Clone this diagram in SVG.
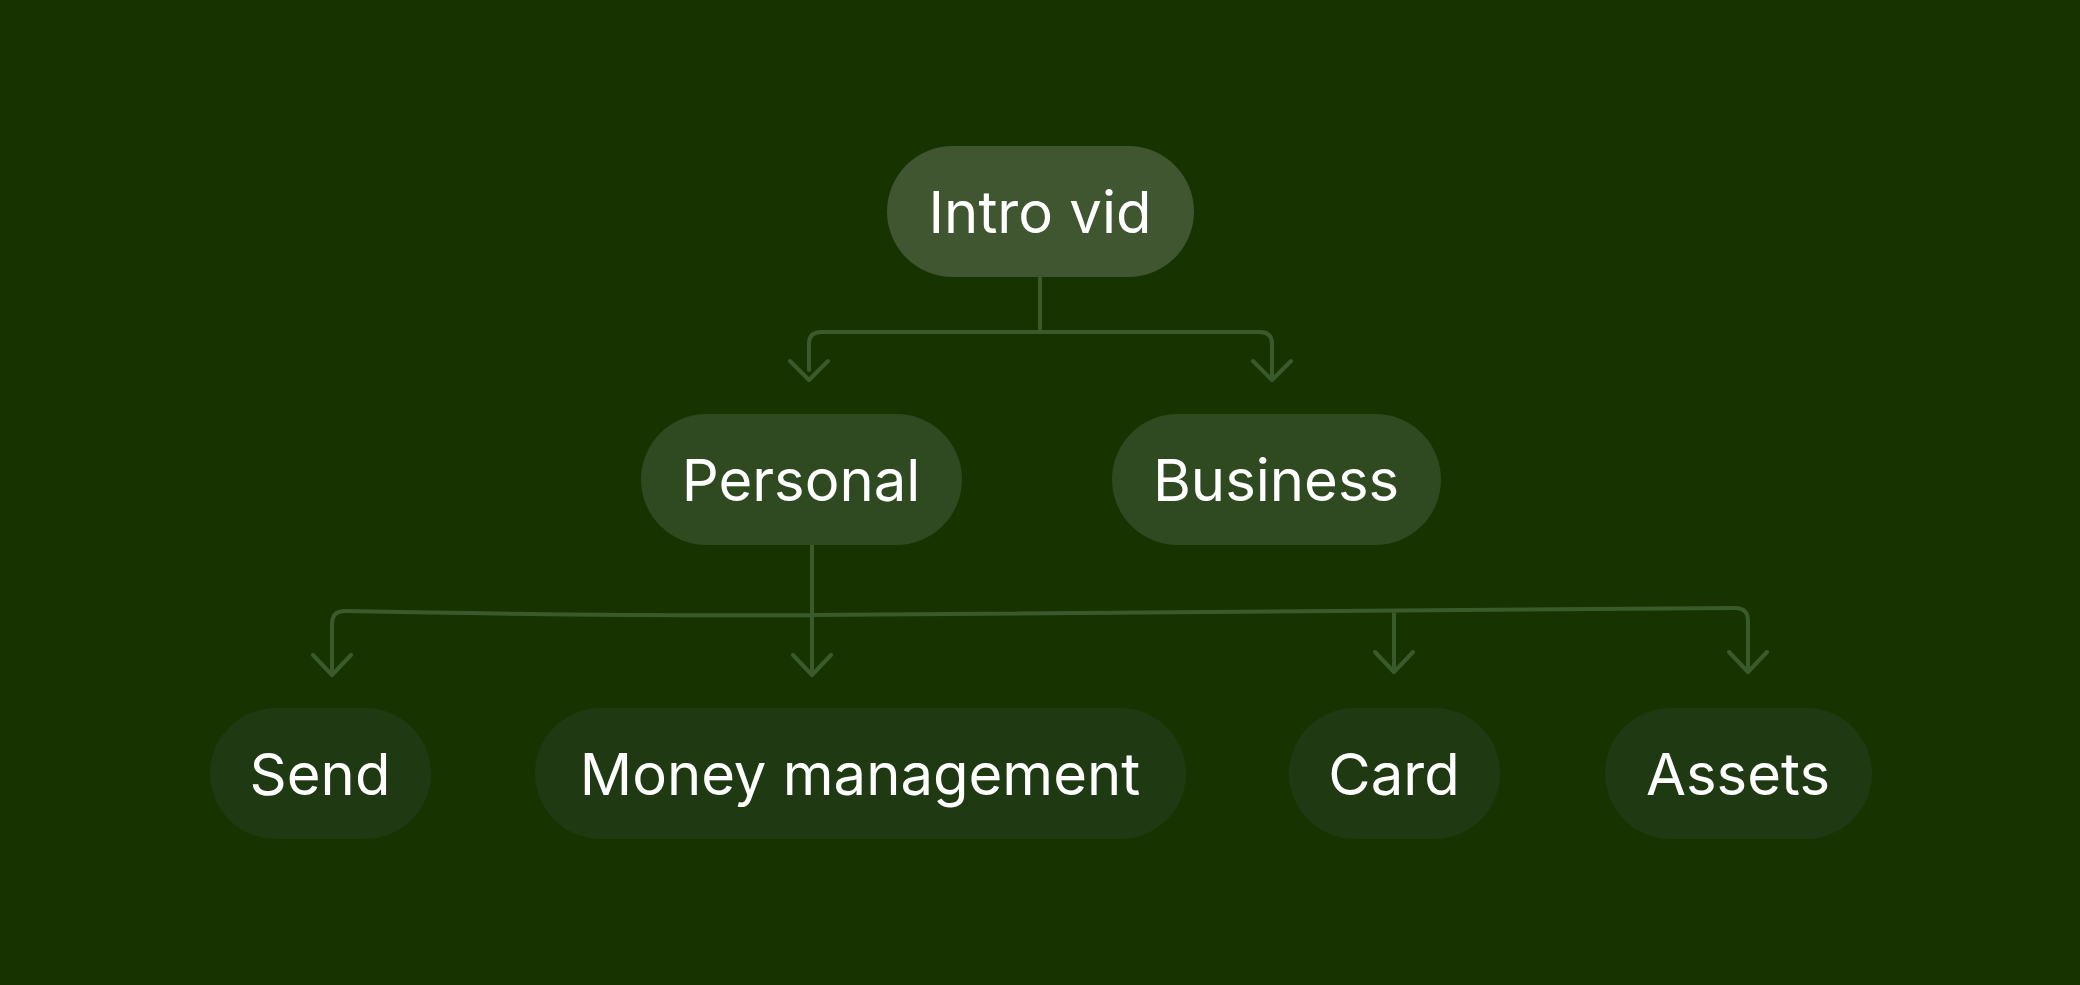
<svg xmlns="http://www.w3.org/2000/svg" width="2080" height="985" viewBox="0 0 2080 985">
<style>
text{font-family:Inter,"Noto Sans",sans-serif;font-size:58px;fill:#ffffff;text-anchor:middle;dominant-baseline:central}
.c{fill:none;stroke:#3b5a2c;stroke-width:4;stroke-linecap:round;stroke-linejoin:round}
</style>
<rect width="2080" height="985" fill="#173300"/>
<g id="connectors">
<path class="c" d="M1040 277V332M809 370V344Q809 332 821 332H1260Q1272 332 1272 344V380"/>
<path class="c" d="M790 361L809 380L828 361M1253 361L1272 380L1291 361"/>
<path class="c" d="M812 545V675M332 675V624Q332 611 345 611Q600 616 812 615Q1200 612 1735 608Q1748 608 1748 621V672M1394 612V672"/>
<path class="c" d="M313 655L332 675L351 655M793 655L812 675L831 655M1375 652L1394 672L1413 652M1729 652L1748 672L1767 652"/>
</g>
<g id="intro"><rect x="887" y="146" width="307" height="131" rx="65.5" fill="#3f5630"/><text x="1040" y="212">Intro vid</text></g>
<g id="personal"><rect x="641" y="414" width="321" height="131" rx="65.5" fill="#2f4a20"/><text x="801" y="480">Personal</text></g>
<g id="business"><rect x="1112" y="414" width="329" height="131" rx="65.5" fill="#2f4a20"/><text x="1276" y="480">Business</text></g>
<g id="send"><rect x="210" y="708" width="221" height="131" rx="65.5" fill="#1f3a12"/><text x="320" y="774">Send</text></g>
<g id="money"><rect x="535" y="708" width="651" height="131" rx="65.5" fill="#1f3a12"/><text x="860" y="774">Money management</text></g>
<g id="card"><rect x="1289" y="708" width="211" height="131" rx="65.5" fill="#1f3a12"/><text x="1394" y="774">Card</text></g>
<g id="assets"><rect x="1605" y="708" width="267" height="131" rx="65.5" fill="#1f3a12"/><text x="1738" y="774">Assets</text></g>
</svg>
